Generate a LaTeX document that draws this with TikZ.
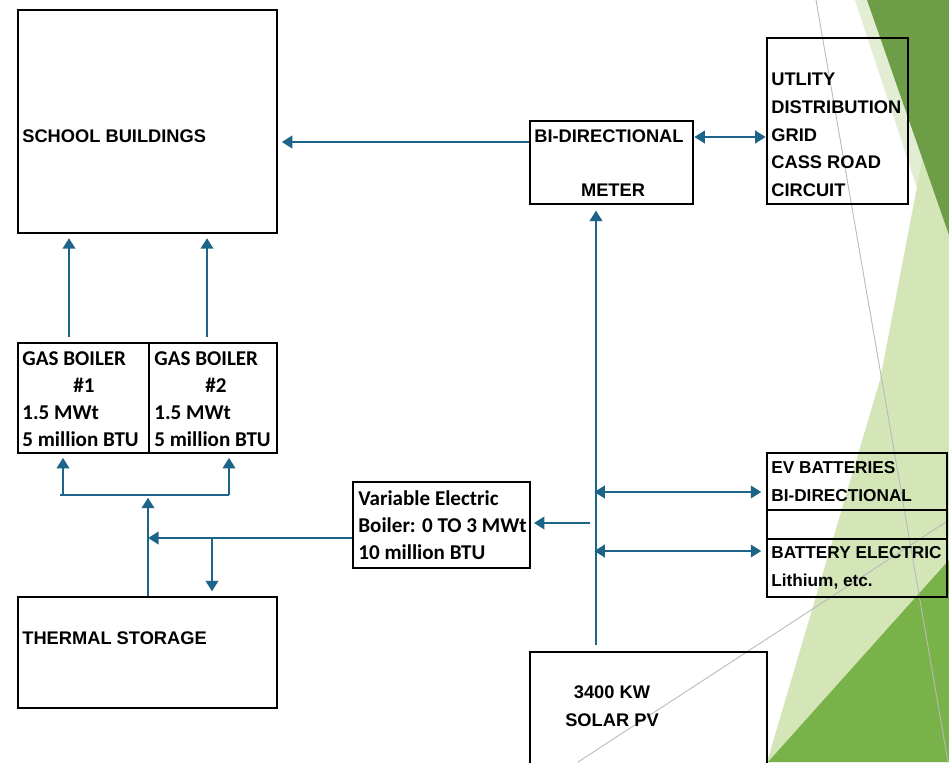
\documentclass[tikz,border=0pt]{standalone}
\usepackage{fontspec}
\setmainfont{Liberation Sans}
\newfontfamily\calibri{Carlito}
\usetikzlibrary{arrows.meta,fit}

\definecolor{flowblue}{RGB}{28,100,136}
\definecolor{leafdark}{RGB}{110,157,72}
\definecolor{leafbright}{RGB}{122,178,74}
\definecolor{leafpale}{RGB}{226,237,212}
\definecolor{leaflight}{RGB}{212,229,184}

\tikzset{
  box/.style={draw, line width=1.45pt, inner sep=0pt},
  lbl/.style={font=\bfseries\fontsize{10.4}{15.8}\selectfont, inner sep=0pt, anchor=west, align=left},
  evlbl/.style={font=\bfseries\fontsize{9.8}{16}\selectfont, inner sep=0pt, anchor=west, align=left},
  clbl/.style={font=\calibri\bfseries\fontsize{12}{15.5}\selectfont, inner sep=0pt, anchor=west, align=left},
  flow/.style={flowblue, line width=1.55pt, -{Triangle[length=6pt,width=7pt]}},
  flowboth/.style={flowblue, line width=1.55pt, {Triangle[length=6pt,width=7pt]}-{Triangle[length=6pt,width=7pt]}},
  pipe/.style={flowblue, line width=1.55pt},
  hairline/.style={gray!55, line width=0.5pt}
}

\begin{document}
\begin{tikzpicture}[x=0.02cm, y=-0.02cm]
\useasboundingbox (0,0) rectangle (949,762);
\clip (0,0) rectangle (949,762);

% Background facets
\fill[leafpale] (855,0) -- (949,0) -- (949,285) -- cycle;
\fill[leaflight] (949,20) -- (917,187) -- (880,380) -- (767,762) -- (949,762) -- cycle;
\fill[leafdark] (867,0) -- (949,0) -- (949,235) -- cycle;
\fill[leafbright] (949,560) -- (949,762) -- (768,762) -- cycle;
\draw[hairline] (816,0) -- (948,762);
\draw[hairline] (578,762) -- (949,520);

% Boxes
\node[box, fit={(18,10)(277,233)}] (school) {};
\node[box, fit={(530,121)(693,204)}] (meter) {};
\node[box, fit={(767,38)(908,204)}] (grid) {};
\node[box, fit={(18,343)(149,453)}] (boilA) {};
\node[box, fit={(149,343)(277,453)}] (boilB) {};
\node[box, fit={(353,482)(530,568)}] (veb) {};
\node[box, fit={(767,453)(947,510)}] (ev) {};
\node[box, fit={(767,510)(947,539)}] (evgap) {};
\node[box, fit={(767,539)(947,597)}] (batt) {};
\node[box, fit={(18,597)(277,708)}] (thermal) {};
\node[box, fit={(530,652)(767,790)}] (solar) {};

% Labels
\node[lbl] (schooltxt) at (22,136) {SCHOOL BUILDINGS};
\node[lbl] (metertxt) at (534,136) {BI-DIRECTIONAL};
\node[lbl, anchor=center] (metertxtb) at (613,190) {METER};
\node[lbl] (gridtxt) at (771,135) {UTLITY\\DISTRIBUTION\\GRID\\CASS ROAD\\CIRCUIT};
\node[clbl] (boilAtxt) at (22,399) {GAS BOILER\\\hspace*{29pt}\#1\\1.5 MWt\\5 million BTU};
\node[clbl] (boilBtxt) at (154,399) {GAS BOILER\\\hspace*{29pt}\#2\\1.5 MWt\\5 million BTU};
\node[clbl] (vebtxt) at (358,525) {Variable Electric\\Boiler: 0 TO 3 MWt\\10 million BTU};
\node[evlbl] (evtxt) at (771,482) {EV BATTERIES\\BI-DIRECTIONAL};
\node[evlbl] (batttxt) at (771,568) {BATTERY ELECTRIC\\Lithium, etc.};
\node[lbl] (thermaltxt) at (22,638) {THERMAL STORAGE};
\node[lbl, align=center, anchor=center] (solartxt) at (612,706) {3400 KW\\SOLAR PV};

% Tap points
\coordinate (tapveb) at (590,523);
\coordinate (tapev) at (596,492);
\coordinate (tapbatt) at (596,551);
\coordinate (tee) at (148,538);
\coordinate (drop) at (212,538);
\coordinate (hdrA) at (60,495);
\coordinate (hdrB) at (229,495);
\coordinate (hdrmid) at (148,495);

% Heat side
\foreach \x/\b in {69/boilA, 207/boilB}
    \draw[flow, shorten <=2.8pt, shorten >=2.2pt] (\b.north -| \x,0) -- (school.south -| \x,0);
\draw[pipe] (hdrA) -- (hdrB);
\foreach \x/\b in {63/boilA, 229/boilB}
    \draw[flow, shorten >=2pt] (\x,495) -- (\b.south -| \x,0);
\draw[flow, shorten >=1.5pt] (thermal.north -| hdrmid) -- (hdrmid);
\draw[flow] (veb.west |- tee) -- (tee);
\draw[flow, shorten >=2.5pt] (drop) -- (thermal.north -| drop);

% Electric side
\draw[flow, shorten >=2pt] (meter.west |- 0,142) -- (school.east |- 0,142);
\draw[flowboth] (meter.east |- 0,137) -- (grid.west |- 0,137);
\draw[flow, shorten <=3.5pt, shorten >=3pt] (solar.north -| 596,0) -- (meter.south -| 596,0);
\draw[flow, shorten >=1.5pt] (tapveb) -- (veb.east |- tapveb);
\draw[flowboth, shorten <=-1pt, shorten >=2.5pt] (tapev) -- (ev.west |- tapev);
\draw[flowboth, shorten <=-1pt, shorten >=2.5pt] (tapbatt) -- (batt.west |- tapbatt);

\end{tikzpicture}
\end{document}
